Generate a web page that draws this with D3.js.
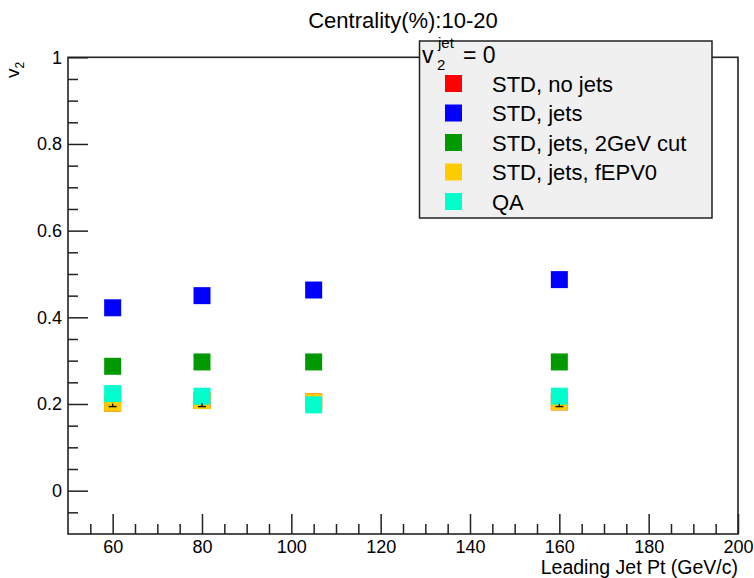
<!DOCTYPE html>
<html>
<head>
<meta charset="utf-8">
<script src="https://cdn.jsdelivr.net/npm/d3@7"></script>
<style>
  body { margin: 0; background: #fff; }
  svg text { font-family: "Liberation Sans", Arial, Helvetica, sans-serif; fill: #000; }
</style>
</head>
<body>
<div id="chart"></div>
<script>
// leading jet pt bins (GeV/c)
const ptBins = [60, 80, 105, 160];

// v2 per method
const stdNoJets   = [0.202, 0.208, 0.205, 0.205];
const stdJets     = [0.422, 0.450, 0.463, 0.487];
const stdJets2GeV = [0.287, 0.297, 0.297, 0.297];
const stdJetsEPV0 = [0.202, 0.208, 0.205, 0.205];
const qaValues    = [0.224, 0.218, 0.198, 0.218];
const epv0Err     = [0.008, 0.014, 0.0, 0.011];

const seriesNames  = ['STD, no jets', 'STD, jets', 'STD, jets, 2GeV cut', 'STD, jets, fEPV0', 'QA'];
const seriesColors = ['#ff0000', '#0000ff', '#009900', '#ffcc00', '#00ffcc'];
const seriesValues = [stdNoJets, stdJets, stdJets2GeV, stdJetsEPV0, qaValues];

const xTicks = [60, 80, 100, 120, 140, 160, 180, 200];
const xMinor = d3.range(55, 200, 5).filter(d => d % 20 !== 0);
const yTicks = [0, 0.2, 0.4, 0.6, 0.8, 1];
const yMinor = [-0.05, 0.05, 0.1, 0.15, 0.25, 0.3, 0.35, 0.45, 0.5, 0.55, 0.65, 0.7, 0.75, 0.85, 0.9, 0.95];

const W = 754, H = 578;
const svg = d3.select('#chart').append('svg').attr('width', W).attr('height', H);

const x = d3.scaleLinear().domain([50, 200]).range([68, 738]);
const y = d3.scaleLinear().domain([-0.1, 1]).range([534, 57.3]);

// title
svg.append('text')
  .attr('x', 403).attr('y', 28)
  .attr('text-anchor', 'middle')
  .style('font-size', '22px')
  .text('Centrality(%):10-20');

// axes (ticks point inward like ROOT)
const xAxis = d3.axisBottom(x).tickValues(xTicks).tickSize(-20).tickPadding(6).tickFormat(d3.format('d'));
const xAxisMinor = d3.axisBottom(x).tickValues(xMinor).tickSize(-10).tickFormat('');
const yAxis = d3.axisLeft(y).tickValues(yTicks).tickSize(-20).tickPadding(6).tickFormat(d => d === 0 || d === 1 ? d : d.toFixed(1));
const yAxisMinor = d3.axisLeft(y).tickValues(yMinor).tickSize(-10).tickFormat('');

const gx = svg.append('g').attr('transform', 'translate(0,534)').call(xAxis);
svg.append('g').attr('transform', 'translate(0,534)').call(xAxisMinor);
const gy = svg.append('g').attr('transform', 'translate(68,0)').call(yAxis);
svg.append('g').attr('transform', 'translate(68,0)').call(yAxisMinor);

svg.selectAll('.domain').remove();
svg.selectAll('.tick line').attr('stroke', '#222').attr('stroke-width', 1.5);
gx.selectAll('text').style('font-size', '18px').attr('fill', '#000');
gy.selectAll('text').style('font-size', '18px').attr('fill', '#000');

// frame
svg.append('rect')
  .attr('x', 68).attr('y', y(1))
  .attr('width', 738 - 68).attr('height', 534 - y(1))
  .attr('fill', 'none').attr('stroke', '#222').attr('stroke-width', 1.6);

// axis titles
svg.append('text')
  .attr('x', 738).attr('y', 574)
  .attr('text-anchor', 'end')
  .style('font-size', '19.5px')
  .text('Leading Jet Pt (GeV/c)');

const yl = svg.append('text')
  .attr('transform', 'translate(19,78) rotate(-90)')
  .attr('text-anchor', 'start')
  .style('font-size', '19px');
yl.append('tspan').text('v');
yl.append('tspan').attr('dy', 5).style('font-size', '12px').text('2');

// markers, drawn in series order so later ones cover earlier ones
const ms = 17;
seriesValues.forEach((vals, k) => {
  svg.append('g').selectAll('rect')
    .data(vals.map((v, i) => ({ pt: ptBins[i], v })))
    .join('rect')
    .attr('x', d => x(d.pt) - ms / 2)
    .attr('y', d => y(d.v) - ms / 2)
    .attr('width', ms).attr('height', ms)
    .attr('fill', seriesColors[k]);
});

// small error bars of the fEPV0 points peeking through
const errG = svg.append('g').attr('stroke', '#111').attr('stroke-width', 1.4);
ptBins.forEach((pt, i) => {
  if (!epv0Err[i]) return;
  const yl0 = y(stdJetsEPV0[i] - epv0Err[i]);
  errG.append('line').attr('x1', x(pt)).attr('x2', x(pt)).attr('y1', yl0 - 3).attr('y2', yl0);
  errG.append('line').attr('x1', x(pt) - 4).attr('x2', x(pt) + 4).attr('y1', yl0).attr('y2', yl0);
});

// legend
const lg = svg.append('g');
lg.append('rect')
  .attr('x', 419.5).attr('y', 41)
  .attr('width', 712 - 419.5).attr('height', 218 - 41)
  .attr('fill', '#f0f0f0').attr('stroke', '#222').attr('stroke-width', 1.5);

lg.append('text').attr('x', 422).attr('y', 63).style('font-size', '23px').text('v');
lg.append('text').attr('x', 437).attr('y', 70).style('font-size', '15px').text('2');
lg.append('text').attr('x', 438).attr('y', 48).style('font-size', '15px').text('jet');
lg.append('text').attr('x', 463).attr('y', 63).style('font-size', '23px').text('= 0');

const rowY = d3.scalePoint().domain(seriesNames).range([83.5, 201.5]);
lg.selectAll('rect.key')
  .data(seriesNames)
  .join('rect')
  .attr('class', 'key')
  .attr('x', 445).attr('y', d => rowY(d) - 8.5)
  .attr('width', ms).attr('height', ms)
  .attr('fill', (d, i) => seriesColors[i]);
lg.selectAll('text.lab')
  .data(seriesNames)
  .join('text')
  .attr('class', 'lab')
  .attr('x', 492).attr('y', d => rowY(d) + 8)
  .style('font-size', '22px')
  .text(d => d);
</script>
</body>
</html>
